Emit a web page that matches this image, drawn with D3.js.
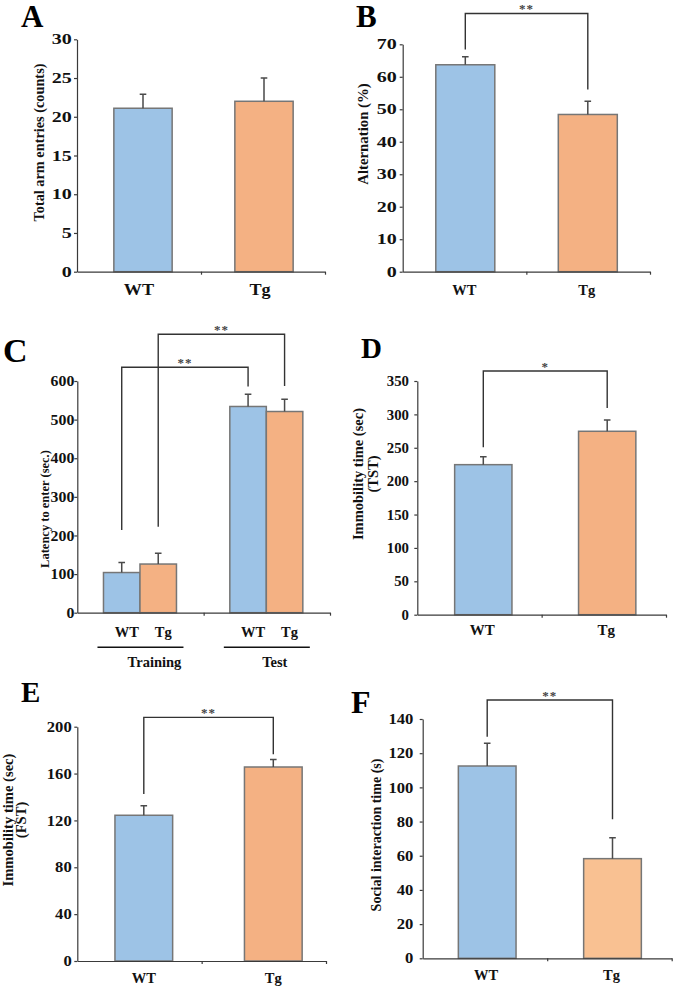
<!DOCTYPE html>
<html>
<head>
<meta charset="utf-8">
<script src="https://cdn.jsdelivr.net/npm/d3@7"></script>
<style>
  html, body { margin: 0; padding: 0; background: #fff; }
  svg { display: block; font-family: "Liberation Serif", "Times New Roman", serif; font-weight: bold; }
</style>
</head>
<body>
<svg id="fig" width="675" height="988"></svg>
<script>
const groups = ["WT", "Tg"];
const phases = ["Training", "Test"];

// A: Y-maze total arm entries
const armEntries = [21.1, 22.0];
const armEntriesErr = [1.8, 3.0];
const armTicks = [0, 5, 10, 15, 20, 25, 30];

// B: spontaneous alternation
const alternation = [63.7, 48.4];
const alternationErr = [2.5, 4.1];
const alternationTicks = [0, 10, 20, 30, 40, 50, 60, 70];
const alternationSig = [{ from: "WT", to: "Tg", left: 68.4, right: 56.1, top: 79.5, label: "**" }];

// C: passive avoidance latency, by phase
const latencyWT = [104, 534];
const latencyWTErr = [26, 32];
const latencyTg = [126, 521];
const latencyTgErr = [28, 32];
const latencyTicks = [0, 100, 200, 300, 400, 500, 600];
const latencySig = [
  { from: ["Training", "WT"], to: ["Test", "WT"], left: 214, right: 585.5, top: 635.7, label: "**" },
  { from: ["Training", "Tg"], to: ["Test", "Tg"], left: 222.8, right: 587.3, top: 721, label: "**" },
];

// D: tail suspension test
const tstTime = [224.7, 274.7];
const tstErr = [11.9, 16.9];
const tstTicks = [0, 50, 100, 150, 200, 250, 300, 350];
const tstSig = [{ from: "WT", to: "Tg", left: 250.7, right: 309.6, top: 365, label: "*" }];

// E: forced swim test
const fstTime = [124.4, 165.6];
const fstErr = [8.1, 6.5];
const fstTicks = [0, 40, 80, 120, 160, 200];
const fstSig = [{ from: "WT", to: "Tg", left: 142.5, right: 176.4, top: 208, label: "**" }];

// F: social interaction
const socialTime = [112.5, 58.3];
const socialErr = [13.3, 12.2];
const socialTicks = [0, 20, 40, 60, 80, 100, 120, 140];
const socialSig = [{ from: "WT", to: "Tg", left: 129.6, right: 81.3, top: 151.1, label: "**" }];

const blue = "#9dc3e6";
const orange = "#f4b183";
const peach = "#f9c192";
const axisColor = "#3a3a3a";
const barStroke = "#767676";
const serif = "'Liberation Serif', 'Times New Roman', serif";

const svg = d3.select("#fig");

function stretch(sel, k) {
  sel.each(function () {
    const w = this.getComputedTextLength();
    d3.select(this).attr("textLength", w * k).attr("lengthAdjust", "spacingAndGlyphs");
  });
}

function drawAxes(p, y, nBands) {
  const g = svg.append("g");

  g.append("g")
    .attr("transform", `translate(${p.x0},0)`)
    .call(d3.axisLeft(y).tickValues(p.ticks).tickSize(3).tickPadding(p.tickPad).tickSizeOuter(0))
    .attr("font-family", serif)
    .call((a) => a.select(".domain").attr("stroke", axisColor).attr("stroke-width", 1.2))
    .call((a) => a.selectAll(".tick line").attr("stroke", axisColor).attr("stroke-width", 1.2))
    .call((a) => a.selectAll(".tick text")
      .attr("fill", "#111")
      .attr("font-size", 14.5)
      .each(function () {
        const n = this.textContent.length;
        d3.select(this).attr("textLength", n * p.digitW).attr("lengthAdjust", "spacingAndGlyphs");
      }));

  const xb = d3.scaleLinear().domain([0, nBands]).range([p.x0, p.x1]);
  g.append("g")
    .attr("transform", `translate(0,${p.y0})`)
    .call(d3.axisBottom(xb).tickValues(d3.range(1, nBands + 1)).tickSize(3).tickSizeOuter(0).tickFormat(""))
    .call((a) => a.select(".domain").attr("stroke", axisColor).attr("stroke-width", 1.2))
    .call((a) => a.selectAll(".tick line").attr("stroke", axisColor).attr("stroke-width", 1.2));
}

function drawYLabel(p) {
  const lab = p.yLabel;
  const t = svg.append("text")
    .attr("transform", `translate(${lab.cx},${lab.cy}) rotate(-90)`)
    .attr("text-anchor", "middle")
    .attr("font-size", lab.size)
    .attr("fill", "#111");
  lab.lines.forEach((line, i) => {
    t.append("tspan")
      .attr("x", 0)
      .attr("y", (i - (lab.lines.length - 1) / 2) * (lab.spacing || 0))
      .attr("dy", "0.3em")
      .text(line);
  });
}

function drawLetter(p) {
  svg.append("text")
    .attr("x", p.letter.x)
    .attr("y", p.letter.y)
    .attr("font-size", p.letter.size)
    .attr("fill", "#000")
    .text(p.letter.text);
}

function drawBracket(xl, xr, y, s) {
  svg.append("path")
    .attr("d", `M${xl},${y(s.left)}V${y(s.top)}H${xr}V${y(s.right)}`)
    .attr("fill", "none")
    .attr("stroke", "#333")
    .attr("stroke-width", 1.4);
  svg.append("text")
    .attr("x", (xl + xr) / 2)
    .attr("y", y(s.top))
    .attr("text-anchor", "middle")
    .attr("font-size", 13)
    .attr("letter-spacing", 1)
    .attr("fill", "#444")
    .text(s.label);
}

function drawBar(cx, w, y, value, err, color) {
  svg.append("rect")
    .attr("x", cx - w / 2)
    .attr("y", y(value))
    .attr("width", w)
    .attr("height", y(0) - y(value))
    .attr("fill", color)
    .attr("stroke", barStroke)
    .attr("stroke-width", 1.5);
  svg.append("path")
    .attr("d", `M${cx},${y(value)}V${y(value + err)}M${cx - 3.3},${y(value + err)}H${cx + 3.3}`)
    .attr("fill", "none")
    .attr("stroke", "#4a4a4a")
    .attr("stroke-width", 1.5);
}

function drawSimple(p) {
  const y = d3.scaleLinear().domain([0, d3.max(p.ticks)]).range([p.y0, p.yTop]);
  const x = d3.scalePoint().domain(groups).range(p.centers);

  groups.forEach((grp, i) => drawBar(x(grp), p.barW, y, p.values[i], p.errors[i], p.colors[i]));
  drawAxes(p, y, groups.length);

  svg.append("g")
    .selectAll("text")
    .data(groups)
    .join("text")
    .attr("x", (d) => x(d) + p.xLabel.shift)
    .attr("y", p.y0 + p.xLabel.dy)
    .attr("text-anchor", "middle")
    .attr("font-size", p.xLabel.size)
    .attr("fill", "#111")
    .text((d) => d)
    .call(stretch, p.xLabel.stretch);

  (p.sig || []).forEach((s) => drawBracket(x(s.from), x(s.to), y, s));
  drawYLabel(p);
  drawLetter(p);
}

const panelA = {
  values: armEntries, errors: armEntriesErr, ticks: armTicks, colors: [blue, orange],
  x0: 77, x1: 325, yTop: 39.3, y0: 271.7, centers: [143, 264], barW: 58.3, digitW: 10, tickPad: 2.3,
  yLabel: { lines: ["Total arm entries (counts)"], cx: 40, cy: 142.5, size: 14.3 },
  xLabel: { size: 16.5, dy: 23.3, shift: -4, stretch: 1.1 },
  letter: { text: "A", x: 21, y: 27, size: 31 },
};

const panelB = {
  values: alternation, errors: alternationErr, ticks: alternationTicks, colors: [blue, orange],
  x0: 402.7, x1: 650, yTop: 44.3, y0: 271.7, centers: [465.3, 587.8], barW: 59, digitW: 10, tickPad: 3,
  yLabel: { lines: ["Alternation (%)"], cx: 363.3, cy: 134, size: 14.8 },
  xLabel: { size: 14.5, dy: 23.3, shift: -1, stretch: 1 },
  letter: { text: "B", x: 356, y: 27, size: 31 },
  sig: alternationSig,
};

const panelD = {
  values: tstTime, errors: tstErr, ticks: tstTicks, colors: [blue, orange],
  x0: 417.3, x1: 666, yTop: 381, y0: 614.7, centers: [483.3, 607.2], barW: 57.3, digitW: 7.4, tickPad: 5.3,
  yLabel: { lines: ["Immobility time (sec)", "(TST)"], cx: 366.3, cy: 474, size: 14.5, spacing: 15 },
  xLabel: { size: 15, dy: 20.3, shift: -1, stretch: 1 },
  letter: { text: "D", x: 361, y: 358, size: 29 },
  sig: tstSig,
};

const panelE = {
  values: fstTime, errors: fstErr, ticks: fstTicks, colors: [blue, orange],
  x0: 77.3, x1: 326, yTop: 726.7, y0: 961, centers: [143.8, 273.3], barW: 57.7, digitW: 8.3, tickPad: 2.6,
  yLabel: { lines: ["Immobility time (sec)", "(FST)"], cx: 15.2, cy: 820, size: 14.6, spacing: 12.5 },
  xLabel: { size: 14.5, dy: 22, shift: 0, stretch: 1 },
  letter: { text: "E", x: 21, y: 702, size: 29 },
  sig: fstSig,
};

const panelF = {
  values: socialTime, errors: socialErr, ticks: socialTicks, colors: [blue, peach],
  x0: 422.7, x1: 671.7, yTop: 719, y0: 958.3, centers: [487.2, 612.5], barW: 57.7, digitW: 8.3, tickPad: 6.4,
  yLabel: { lines: ["Social interaction time (s)"], cx: 376.7, cy: 835, size: 14 },
  xLabel: { size: 14.5, dy: 21.7, shift: -1, stretch: 1 },
  letter: { text: "F", x: 351, y: 713, size: 32 },
  sig: socialSig,
};

[panelA, panelB, panelD, panelE, panelF].forEach(drawSimple);

// C: grouped bars, two phases
const panelC = {
  ticks: latencyTicks, x0: 77.3, x1: 330, yTop: 381, y0: 612.7, barW: 36.5, digitW: 7.9, tickPad: 0,
  yLabel: { lines: ["Latency to enter (sec.)"], cx: 45, cy: 509, size: 12.5 },
  letter: { text: "C", x: 3, y: 362, size: 34 },
};

(function drawLatency(p) {
  const y = d3.scaleLinear().domain([0, d3.max(p.ticks)]).range([p.y0, p.yTop]);
  const phaseX = d3.scaleBand().domain(phases).range([p.x0, p.x1]);
  const sub = d3.scaleBand().domain(groups).range([-p.barW, p.barW]);
  const cx = (phase, grp) => phaseX(phase) + phaseX.bandwidth() / 2 - 0.5 + sub(grp) + sub.bandwidth() / 2;

  const series = { WT: [latencyWT, latencyWTErr, blue], Tg: [latencyTg, latencyTgErr, orange] };
  phases.forEach((ph, i) => {
    groups.forEach((grp) => {
      const [vals, errs, color] = series[grp];
      drawBar(cx(ph, grp), p.barW, y, vals[i], errs[i], color);
    });
  });
  drawAxes(p, y, phases.length);

  phases.forEach((ph) => {
    const mid = phaseX(ph) + phaseX.bandwidth() / 2;
    groups.forEach((grp) => {
      svg.append("text")
        .attr("x", cx(ph, grp) + 5)
        .attr("y", 636.5)
        .attr("text-anchor", "middle")
        .attr("font-size", 14.5)
        .attr("fill", "#111")
        .text(grp);
    });
    svg.append("line")
      .attr("x1", mid - 43)
      .attr("x2", mid + 43)
      .attr("y1", 647.3)
      .attr("y2", 647.3)
      .attr("stroke", "#111")
      .attr("stroke-width", 1.5);
    svg.append("text")
      .attr("x", mid + (ph === "Training" ? 14 : 8))
      .attr("y", 666.7)
      .attr("text-anchor", "middle")
      .attr("font-size", 14.5)
      .attr("fill", "#111")
      .text(ph);
  });

  latencySig.forEach((s) => drawBracket(cx(...s.from), cx(...s.to), y, s));
  drawYLabel(p);
  drawLetter(p);
})(panelC);
</script>
</body>
</html>
